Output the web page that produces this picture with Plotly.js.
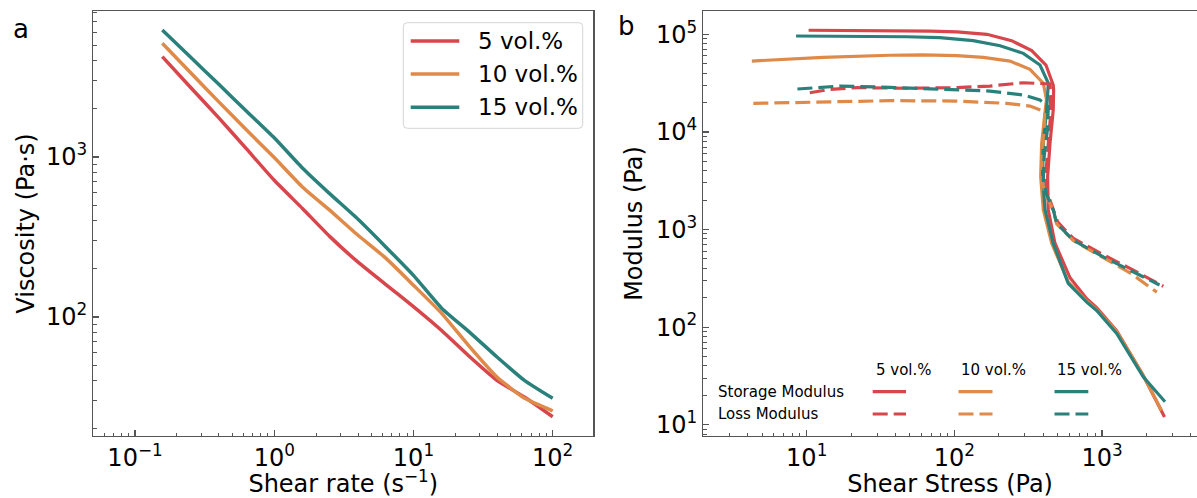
<!DOCTYPE html>
<html>
<head>
<meta charset="utf-8">
<script src="https://cdn.plot.ly/plotly-3.0.1.min.js"></script>
<style>html,body{margin:0;padding:0;background:#fff;}#chart{width:1197px;height:498px;}</style>
</head>
<body>
<div id="chart"></div>
<script>
// ---------- Panel a: viscosity vs shear rate ----------
const seriesNames = ['5 vol.%', '10 vol.%', '15 vol.%'];
const shearRate = [0.157, 0.25, 0.4, 0.63, 1, 1.6, 2.5, 4, 6.3, 10, 16, 25, 40, 63, 100];
const visc5  = [4240, 2730, 1755, 1127, 715, 475, 319, 220, 160, 116, 82, 57, 40, 31.5, 23.8];
const visc10 = [5140, 3370, 2210, 1480, 991, 647, 465, 324, 234, 158, 105, 66, 42, 31, 25.9];
const visc15 = [6220, 4210, 2845, 1940, 1318, 850, 590, 408, 275, 182, 113, 81, 56, 40, 31];

// ---------- Panel b: modulus vs shear stress ----------
const stress5G  = [10.3, 21.8, 47.6, 68.4, 104, 166, 244, 334, 417, 467, 470, 467, 444, 428, 432, 480, 607, 787, 919, 1256, 1900, 2650];
const storage5  = [110000, 110000, 110000, 108000, 105700, 100000, 86000, 68000, 48400, 30200, 27000, 16700, 7600, 3480, 1590, 723, 320, 195, 158, 92, 32, 12];
const stress10G = [4.25, 12.9, 36.6, 61.5, 104, 157, 238, 325, 400, 421, 417, 390, 384, 400, 456, 590, 787, 919, 1256, 1900, 2530];
const storage10 = [53200, 58100, 61000, 61400, 60400, 58100, 53200, 43700, 31500, 21200, 19500, 7600, 3480, 1590, 723, 290, 185, 152, 90, 32, 14];
const stress15G = [8.47, 21.8, 47.6, 79.8, 134, 204, 293, 380, 433, 421, 400, 396, 411, 467, 590, 787, 919, 1256, 1900, 2670];
const storage15 = [96100, 95500, 94400, 92300, 86000, 76400, 63800, 48400, 31500, 16700, 7600, 3480, 1590, 723, 280, 180, 148, 86, 31, 17.2];

const stress5L  = [10.5, 14.4, 21.8, 47.6, 104, 174, 293, 400, 445, 450, 430, 415, 425, 467, 500, 580, 640, 1019, 1545, 2600];
const loss5     = [25200, 27300, 28400, 28000, 28400, 29500, 31900, 31500, 31000, 16000, 7000, 3500, 2400, 1620, 1200, 940, 810, 550, 400, 262];
const stress10L = [4.35, 13, 36.6, 104, 226, 325, 410, 405, 392, 390, 410, 467, 493, 575, 638, 1019, 1545, 2350];
const loss10    = [19600, 20400, 20900, 20700, 19600, 18400, 16100, 10000, 5500, 3200, 2400, 1560, 1140, 900, 770, 515, 360, 228];
const stress15L = [8.65, 16.8, 36.6, 104, 174, 293, 380, 433, 425, 405, 400, 420, 467, 493, 575, 638, 1019, 1545, 2450];
const loss15    = [27500, 29500, 28600, 27300, 26200, 23900, 21200, 18100, 10000, 5500, 3200, 2300, 1590, 1160, 912, 777, 525, 385, 270];

const legendRows = ['Storage Modulus', 'Loss Modulus'];
const xTicksA = [0.1, 1, 10, 100];
const xTickTextA = ['10<sup>−1</sup>', '10<sup>0</sup>', '10<sup>1</sup>', '10<sup>2</sup>'];
const yTicksA = [100, 1000];
const yTickTextA = ['10<sup>2</sup>', '10<sup>3</sup>'];
const xTicksB = [10, 100, 1000];
const xTickTextB = ['10<sup>1</sup>', '10<sup>2</sup>', '10<sup>3</sup>'];
const yTicksB = [10, 100, 1000, 10000, 100000];
const yTickTextB = ['10<sup>1</sup>', '10<sup>2</sup>', '10<sup>3</sup>', '10<sup>4</sup>', '10<sup>5</sup>'];

const colors = ['#d8464b', '#df8a48', '#2a807b'];
const FONT = 'DejaVu Sans';
const W = 1197, H = 498;
const px = v => v / W;
const py = v => 1 - v / H;

const viscSeries = [visc5, visc10, visc15];
const traces = viscSeries.map((v, i) => ({
  x: shearRate, y: v, type: 'scatter', mode: 'lines', name: seriesNames[i], showlegend: false,
  line: {color: colors[i], width: 3.5, shape: 'spline', smoothing: 0.5},
  xaxis: 'x', yaxis: 'y'
}));

const storageX = [stress5G, stress10G, stress15G];
const storageY = [storage5, storage10, storage15];
const lossX = [stress5L, stress10L, stress15L];
const lossY = [loss5, loss10, loss15];
const DASH = '15px,6px';
for (let i = 0; i < 3; i++) {
  traces.push({x: storageX[i], y: storageY[i], type: 'scatter', mode: 'lines', showlegend: false,
    name: seriesNames[i] + ' storage',
    line: {color: colors[i], width: 3.2}, xaxis: 'x2', yaxis: 'y2'});
}
for (let i = 0; i < 3; i++) {
  traces.push({x: lossX[i], y: lossY[i], type: 'scatter', mode: 'lines', showlegend: false,
    name: seriesNames[i] + ' loss',
    line: {color: colors[i], width: 3.2, dash: DASH}, xaxis: 'x2', yaxis: 'y2'});
}

const axBase = {
  type: 'log', showline: true, linecolor: '#555', linewidth: 1.3,
  ticks: 'inside', ticklen: 6, tickwidth: 1.2, tickcolor: '#555',
  showgrid: false, zeroline: false,
  tickfont: {family: FONT, size: 24, color: '#000'},
  minor: {ticks: 'inside', ticklen: 3.5, tickwidth: 1, tickcolor: '#555', dtick: 'D1', showgrid: false}
};
const titleFont = {family: FONT, size: 24, color: '#000'};

const shapes = [];
const annotations = [];

// legend box for panel a (rounded rectangle)
function roundRect(x0, y0, x1, y1, r) {
  const X = v => px(v).toFixed(5), Y = v => py(v).toFixed(5);
  return 'M' + X(x0 + r) + ',' + Y(y0) + ' L' + X(x1 - r) + ',' + Y(y0) +
    ' Q' + X(x1) + ',' + Y(y0) + ' ' + X(x1) + ',' + Y(y0 + r) +
    ' L' + X(x1) + ',' + Y(y1 - r) + ' Q' + X(x1) + ',' + Y(y1) + ' ' + X(x1 - r) + ',' + Y(y1) +
    ' L' + X(x0 + r) + ',' + Y(y1) + ' Q' + X(x0) + ',' + Y(y1) + ' ' + X(x0) + ',' + Y(y1 - r) +
    ' L' + X(x0) + ',' + Y(y0 + r) + ' Q' + X(x0) + ',' + Y(y0) + ' ' + X(x0 + r) + ',' + Y(y0) + ' Z';
}
shapes.push({type: 'path', xref: 'paper', yref: 'paper', path: roundRect(403.3, 22.7, 582.7, 128.3, 4),
  line: {color: '#d4d4d4', width: 1}, fillcolor: 'rgba(255,255,255,0.85)'});
const legRowA = [41, 74, 107.3];
for (let i = 0; i < 3; i++) {
  shapes.push({type: 'line', xref: 'paper', yref: 'paper',
    x0: px(410.7), x1: px(459.3), y0: py(legRowA[i]), y1: py(legRowA[i]),
    line: {color: colors[i], width: 3.5}});
  annotations.push({xref: 'paper', yref: 'paper', x: px(475.5), y: py(legRowA[i]), xanchor: 'left', yanchor: 'middle',
    text: seriesNames[i], showarrow: false, font: {family: FONT, size: 23, color: '#000'}});
}

// custom legend for panel b
const segX = [[872.7, 906], [958.5, 992.5], [1054.5, 1088.3]];
const rowY = [391.7, 414];
const headX = [875, 960.7, 1056.7];
for (let i = 0; i < 3; i++) {
  for (let r = 0; r < 2; r++) {
    shapes.push({type: 'line', xref: 'paper', yref: 'paper',
      x0: px(segX[i][0]), x1: px(segX[i][1]), y0: py(rowY[r]), y1: py(rowY[r]),
      line: {color: colors[i], width: 3.2, dash: r === 0 ? 'solid' : DASH}});
  }
  annotations.push({xref: 'paper', yref: 'paper', x: px(headX[i] - 1.5), y: py(370), xanchor: 'left', yanchor: 'middle',
    text: seriesNames[i], showarrow: false, font: {family: FONT, size: 15, color: '#000'}});
}
for (let r = 0; r < 2; r++) {
  annotations.push({xref: 'paper', yref: 'paper', x: px(715.5), y: py(rowY[r]), xanchor: 'left', yanchor: 'middle',
    text: legendRows[r], showarrow: false, font: {family: FONT, size: 15, color: '#000'}});
}
annotations.push({xref: 'paper', yref: 'paper', x: px(21), y: py(29), xanchor: 'center', yanchor: 'middle',
  text: 'a', showarrow: false, font: {family: FONT, size: 26, color: '#000'}});
annotations.push({xref: 'paper', yref: 'paper', x: px(626), y: py(26), xanchor: 'center', yanchor: 'middle',
  text: 'b', showarrow: false, font: {family: FONT, size: 26, color: '#000'}});

const layout = {
  width: W, height: H,
  margin: {l: 0, r: 0, t: 0, b: 0},
  paper_bgcolor: '#fff', plot_bgcolor: '#fff',
  font: {family: FONT, color: '#000'},
  showlegend: false,
  xaxis: Object.assign({}, axBase, {
    domain: [px(93.3), px(593.3)], range: [-1.2996, 2.2917], mirror: true, anchor: 'y',
    tickvals: xTicksA, ticktext: xTickTextA,
    title: {text: 'Shear rate (s<sup>−1</sup>)', font: titleFont, standoff: 10}
  }),
  yaxis: Object.assign({}, axBase, {
    domain: [1 - 436 / H, 1 - 11 / H], range: [1.256, 3.9125], mirror: true, anchor: 'x',
    tickvals: yTicksA, ticktext: yTickTextA,
    title: {text: 'Viscosity (Pa·s)', font: titleFont, standoff: 4}
  }),
  xaxis2: Object.assign({}, axBase, {
    domain: [px(703.3), 1], range: [0.2997, 3.643], mirror: true, anchor: 'y2',
    tickvals: xTicksB, ticktext: xTickTextB,
    title: {text: 'Shear Stress (Pa)', font: titleFont, standoff: 10}
  }),
  yaxis2: Object.assign({}, axBase, {
    domain: [1 - 436 / H, 1 - 11 / H], range: [0.8842, 5.2387], mirror: false, anchor: 'x2',
    tickvals: yTicksB, ticktext: yTickTextB,
    title: {text: 'Modulus (Pa)', font: titleFont, standoff: 6}
  }),
  shapes: shapes,
  annotations: annotations
};

Plotly.newPlot('chart', traces, layout, {staticPlot: true, displayModeBar: false});
</script>
</body>
</html>
